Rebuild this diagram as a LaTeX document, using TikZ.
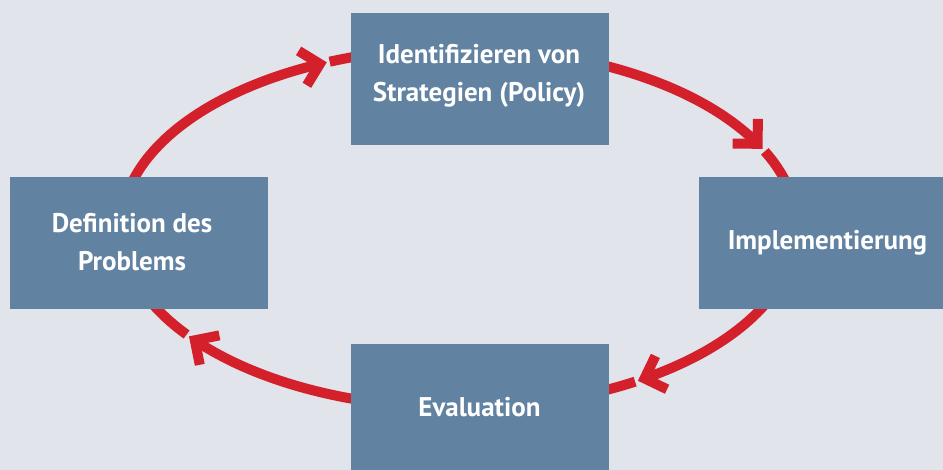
\documentclass[tikz,border=0pt]{standalone}
\usepackage{fontspec}
\setmainfont{PT Sans}
\usetikzlibrary{calc}
\definecolor{bgcol}{HTML}{E1E4EA}
\definecolor{boxcol}{HTML}{6183A1}
\definecolor{ringred}{HTML}{D3202A}
\begin{document}
\begin{tikzpicture}[x=1pt,y=1pt,
  stage/.style={fill=boxcol, draw=none, minimum width=258pt, minimum height=132pt, inner sep=0pt},
  caption/.style={text=white, font=\fontsize{27}{38}\selectfont\bfseries, align=center, inner sep=0pt, anchor=base},
  ring/.style={draw=ringred, line width=10pt, line cap=butt},
  barb/.style={draw=ringred, line width=10pt, line cap=butt, line join=miter, miter limit=10},
  elli/.style={x radius=338pt, y radius=180pt}]
\useasboundingbox (0,0) rectangle (943,470);
\fill[bgcol] (0,0) rectangle (943,470);
\clip (0,0) rectangle (943,470);
\coordinate (C) at (459,242);
% arrow tips (vertex) and back-direction helpers
\coordinate (tip1) at ($(C)+(114.3:338pt and 180pt)$);
\coordinate (back1) at ($(tip1)+(204.3:338pt and 180pt)$);
\coordinate (tip2) at ($(C)+(27.9:338pt and 180pt)$);
\coordinate (back2) at ($(tip2)+(117.9:338pt and 180pt)$);
\coordinate (tip3) at ($(C)+(-56.7:338pt and 180pt)$);
\coordinate (back3) at ($(tip3)+(33.3:338pt and 180pt)$);
\coordinate (tip4) at ($(C)+(218.6:338pt and 180pt)$);
\coordinate (back4) at ($(tip4)+(308.6:338pt and 180pt)$);
% segment starts
\coordinate (s1) at ($(C)+(112.5:338pt and 180pt)$);
\coordinate (s2) at ($(C)+(25.2:338pt and 180pt)$);
\coordinate (s3) at ($(C)+(-58.6:338pt and 180pt)$);
\coordinate (s4) at ($(C)+(216.3:338pt and 180pt)$);
% barb ends
\coordinate (b1a) at ($(tip1)!25pt!45:(back1)$);
\coordinate (b1b) at ($(tip1)!25pt!-45:(back1)$);
\coordinate (b2a) at ($(tip2)!25pt!45:(back2)$);
\coordinate (b2b) at ($(tip2)!25pt!-45:(back2)$);
\coordinate (b3a) at ($(tip3)!25pt!45:(back3)$);
\coordinate (b3b) at ($(tip3)!25pt!-45:(back3)$);
\coordinate (b4a) at ($(tip4)!25pt!45:(back4)$);
\coordinate (b4b) at ($(tip4)!25pt!-45:(back4)$);
% ring segments
\draw[ring] (s4) arc[start angle=216.3, end angle=114.3, elli];
\draw[ring] (s1) arc[start angle=112.5, end angle=27.9, elli];
\draw[ring] (s2) arc[start angle=25.2, end angle=-56.7, elli];
\draw[ring] (s3) arc[start angle=-58.6, end angle=-141.4, elli];
% arrow heads
\draw[barb] (b1a) -- (tip1) -- (b1b);
\draw[barb] (b2a) -- (tip2) -- (b2b);
\draw[barb] (b3a) -- (tip3) -- (b3b);
\draw[barb] (b4a) -- (tip4) -- (b4b);
% boxes
\node[stage] (policy) at (480,390.5) {};
\node[stage] (impl) at (828,227) {};
\node[stage] (eval) at (480,60) {};
\node[stage] (def) at (139,227) {};
% texts (base = baseline of the last line)
\node[caption] (policyT) at (479,368) {Identifizieren von\\Strategien (Policy)};
\node[caption] (implT) at (827.5,220) {Implementierung};
\node[caption] (evalT) at (479.5,53) {Evaluation};
\node[caption] (defT) at (132,199) {Definition des\\Problems};
\end{tikzpicture}
\end{document}
